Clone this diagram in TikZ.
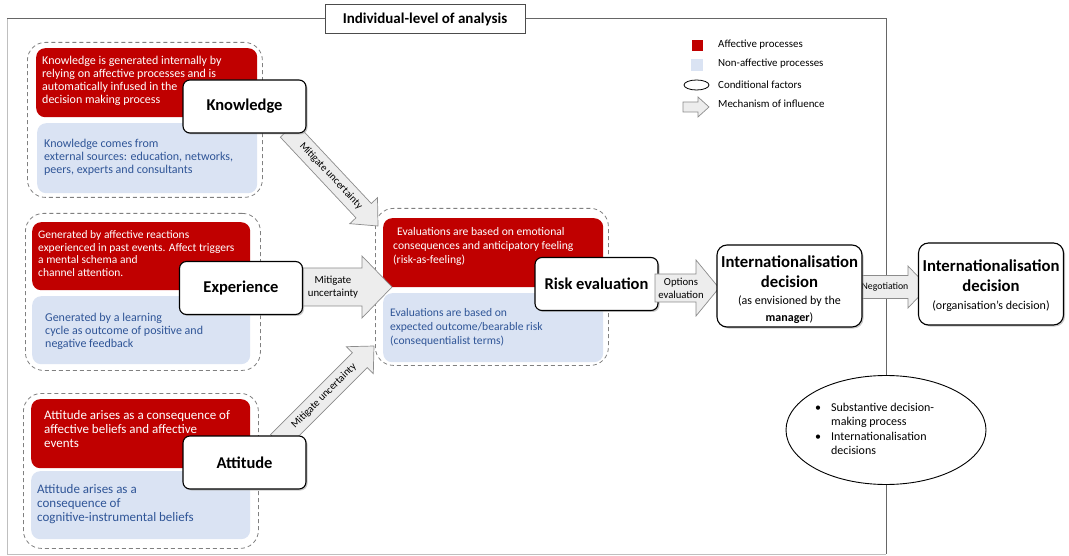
\documentclass[tikz,border=0pt]{standalone}
\usepackage{fontspec}
\setmainfont{Carlito}
\usetikzlibrary{calc,shapes.geometric,shadows}
\definecolor{affred}{HTML}{C00000}
\definecolor{nablue}{HTML}{DAE3F3}
\definecolor{natext}{HTML}{2F5597}
\definecolor{arrfill}{HTML}{EDEDED}
\definecolor{arredge}{HTML}{8C8C8C}
\newcommand\blockarrow[6]{%
  \coordinate (#6h) at ($(#2)!#5!(#1)$);
  \draw[arrowstyle] ($(#1)!#3!90:(#2)$) -- ($(#6h)!#3!-90:(#1)$) -- ($(#6h)!#4!-90:(#1)$) -- (#2)
     -- ($(#6h)!#4!90:(#1)$) -- ($(#6h)!#3!90:(#1)$) -- ($(#1)!#3!-90:(#2)$) -- cycle;}
\tikzset{
  arrowstyle/.style={draw=arredge, fill=arrfill, line width=0.7pt, line join=miter},
  grp/.style={draw=black!50, dashed, dash pattern=on 4pt off 3pt, line width=0.8pt, rounded corners=18pt, anchor=north west, inner sep=0},
  redbox/.style={fill=affred, rounded corners=9pt, anchor=north west, inner sep=0},
  bluebox/.style={fill=nablue, rounded corners=9pt, anchor=north west, inner sep=0},
  redtxt/.style={text=white, anchor=west, align=left, inner sep=0, font=\fontsize{12}{12.8}\selectfont},
  bluetxt/.style={text=natext, anchor=west, align=left, inner sep=0, font=\fontsize{12}{13}\selectfont},
  factor/.style={draw=black, line width=1.1pt, fill=white, rounded corners=7pt, minimum width=123, minimum height=53,
     font=\fontsize{16.5}{18}\selectfont\bfseries, drop shadow={shadow xshift=1.5pt, shadow yshift=-1.5pt, fill=black!35, opacity=0.6}},
  decbox/.style={draw=black, line width=1.1pt, fill=white, rounded corners=10pt, minimum width=145, minimum height=82,
     drop shadow={shadow xshift=1.5pt, shadow yshift=-1.5pt, fill=black!35, opacity=0.6}},
  dectitle/.style={anchor=base, inner sep=0, font=\fontsize{16.7}{18}\selectfont\bfseries},
  decsub/.style={anchor=base, inner sep=0, font=\fontsize{12}{14}\selectfont},
  arrlabel/.style={inner sep=0, align=center, font=\fontsize{10.5}{12}\selectfont},
  legtxt/.style={anchor=west, inner sep=0, font=\fontsize{10.9}{12}\selectfont},
}
\begin{document}
\begin{tikzpicture}[x=1pt,y=-1pt]
\useasboundingbox (0,0) rectangle (1069,556);
% frame
\draw[black!60, line width=1pt] (7,19) -- (886,19) -- (886,554);
\draw[black!25, line width=1pt] (7,19) -- (7,554) -- (886,554);
\node[draw=black!70, line width=1pt, fill=white, minimum width=200, minimum height=29, font=\fontsize{15}{16}\selectfont\bfseries] (title) at (425,19.5) {Individual-level of analysis};
% legend
\node[fill=affred, minimum size=11, inner sep=0] (lgred) at (697.5,45.5) {};
\node[fill=nablue, minimum size=12, inner sep=0] (lgblue) at (697,65) {};
\node[draw=black, ellipse, minimum width=25, minimum height=10, inner sep=0, line width=0.8pt] (lgell) at (696.5,85) {};
\coordinate (lga) at (683,107);
\coordinate (lgb) at (709,107);
\blockarrow{lga}{lgb}{5pt}{10pt}{11pt}{lgarr}
\node[legtxt] (lt1) at (718,45) {Affective processes};
\node[legtxt] (lt2) at (718,64) {Non-affective processes};
\node[legtxt] (lt3) at (718,85) {Conditional factors};
\node[legtxt] (lt4) at (718,104) {Mechanism of influence};
% knowledge group
\node[grp, minimum width=235, minimum height=155] (kg) at (27,42) {};
\node[redbox, minimum width=221, minimum height=69] (kr) at (36,48) {};
\node[bluebox, minimum width=220, minimum height=70] (kb) at (37,123) {};
\node[redtxt] (krt) at (42,81) {Knowledge is generated internally by\\relying on affective processes and is\\automatically infused in the\\decision making process};
\node[bluetxt] (kbt) at (44,157) {Knowledge comes from\\external sources: education, networks,\\peers, experts and consultants};
% experience group
\node[grp, minimum width=235, minimum height=157] (eg) at (25,213) {};
\node[redbox, minimum width=218, minimum height=68] (er) at (32,222) {};
\node[bluebox, minimum width=218, minimum height=68] (eb) at (32,296) {};
\node[redtxt, font=\fontsize{11.5}{12.4}\selectfont] (ert) at (38,253.5) {Generated by affective reactions\\experienced in past events. Affect triggers\\a mental schema and\\channel attention.};
\node[bluetxt] (ebt) at (45,331) {Generated by a learning\\cycle as outcome of positive and\\negative feedback};
% attitude group
\node[grp, minimum width=235, minimum height=155] (ag) at (23,393) {};
\node[redbox, minimum width=219, minimum height=69] (ar) at (31,399) {};
\node[bluebox, minimum width=219, minimum height=68] (ab) at (31,471) {};
\node[redtxt, font=\fontsize{13}{14}\selectfont] (art) at (44,429) {Attitude arises as a consequence of\\affective beliefs and affective\\events};
\node[bluetxt, font=\fontsize{13}{14}\selectfont] (abt) at (37,504) {Attitude arises as a\\consequence of\\cognitive-instrumental beliefs};
% risk group
\node[grp, minimum width=233, minimum height=157] (rg) at (375,208) {};
\node[redbox, minimum width=220, minimum height=69] (rr) at (383,218) {};
\node[bluebox, minimum width=220, minimum height=69] (rb) at (383,293) {};
\node[redtxt, font=\fontsize{11.6}{14.3}\selectfont] (rrt) at (393,246.5) {\hspace{4pt}Evaluations are based on emotional\\consequences and anticipatory feeling\\(risk-as-feeling)};
\node[bluetxt, font=\fontsize{11.6}{14}\selectfont] (rbt) at (390,327) {Evaluations are based on\\expected outcome/bearable risk\\(consequentialist terms)};
% mechanism arrows (left)
\coordinate (ka) at (288,130);
\coordinate (kz) at (378,226);
\blockarrow{ka}{kz}{10.5pt}{19pt}{21pt}{karr}
\node[arrlabel, rotate=-46.8] (kl) at (331,176) {Mitigate uncertainty};
\coordinate (ea) at (300,287);
\coordinate (ez) at (392,287);
\blockarrow{ea}{ez}{19pt}{31pt}{30pt}{earr}
\node[arrlabel, font=\fontsize{10.8}{13}\selectfont] (el) at (333,287) {Mitigate\\uncertainty};
\coordinate (aa) at (278,442);
\coordinate (az) at (374,346);
\blockarrow{aa}{az}{10.5pt}{19pt}{20pt}{aarr}
\node[arrlabel, rotate=45] (al) at (324,396) {Mitigate uncertainty};
% factor nodes
\node[factor] (know) at (244.5,106.5) {Knowledge};
\node[factor] (exp) at (241,288) {Experience};
\node[factor] (att) at (244.5,462.5) {Attitude};
\node[factor] (risk) at (596.5,284) {Risk evaluation};
% options arrow
\coordinate (oa) at (655,288);
\coordinate (oz) at (719,288);
\blockarrow{oa}{oz}{14pt}{28pt}{23pt}{oarr}
\node[arrlabel, font=\fontsize{10.7}{13}\selectfont] (ol) at (681,288) {Options\\evaluation};
% negotiation arrow
\coordinate (na) at (860,287);
\coordinate (nz) at (928,287);
\blockarrow{na}{nz}{11.5pt}{21pt}{20pt}{narr}
\node[arrlabel, font=\fontsize{9.8}{12}\selectfont] (nl) at (885,287) {Negotiation};
% decision boxes
\node[decbox] (mgr) at (789.5,286) {};
\node[dectitle] (mgr1) at (789.5,268) {Internationalisation};
\node[dectitle] (mgr2) at (789.5,288) {decision};
\node[decsub] (mgr3) at (789.5,305) {(as envisioned by the};
\node[decsub] (mgr4) at (789.5,321) {\textbf{manager})};
\node[decbox] (org) at (991,284) {};
\node[dectitle] (org1) at (991,272) {Internationalisation};
\node[dectitle] (org2) at (991,292) {decision};
\node[decsub] (org3) at (991,309) {(organisation’s decision)};
% conditional factors
\node[draw=black, ellipse, fill=white, minimum width=200, minimum height=109, line width=0.9pt] (cf) at (886,430) {};
\node[anchor=west, inner sep=0, font=\fontsize{12}{14.5}\selectfont] (cft) at (815,430) {\begin{tabular}{@{}l@{\hspace{10pt}}l@{}}\textbullet & Substantive decision-\\ & making process\\ \textbullet & Internationalisation\\ & decisions\end{tabular}};
\end{tikzpicture}
\end{document}
